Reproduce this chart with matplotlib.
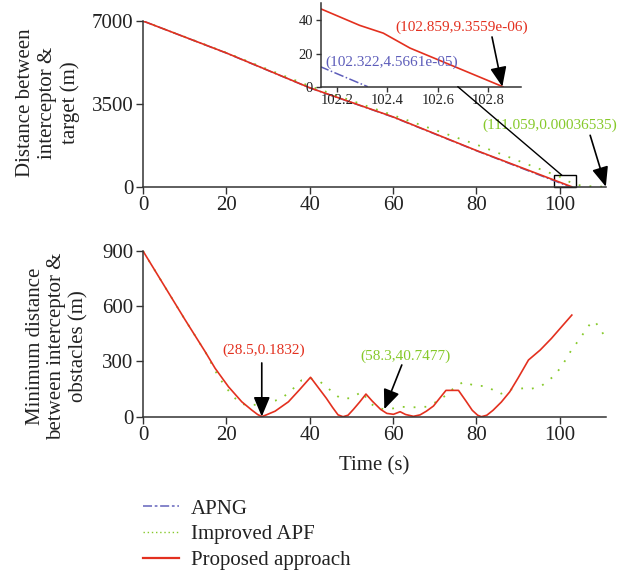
import matplotlib
matplotlib.use("Agg")
import matplotlib.pyplot as plt
from matplotlib.lines import Line2D
from matplotlib.patches import Rectangle, ConnectionPatch

plt.rcParams['font.family'] = ['Liberation Serif', 'DejaVu Serif']

# ---------------- data ----------------
# Top: distance between interceptor & target
t_red_top = [0, 20, 40, 60, 80, 100, 102.135, 102.29, 102.384, 102.49, 102.859]
d_red_top = [7000, 5650, 4180, 2950, 1530, 190, 47, 37, 32.3, 23.3, 0]
t_blue_top = [0, 20, 40, 60, 80, 100, 102.135, 102.322]
d_blue_top = [7000, 5645, 4175, 2940, 1520, 160, 12, 0]
t_green_top = [0, 20, 40, 60, 80, 95, 100, 102, 104, 106, 108, 111.059]
d_green_top = [7000, 5660, 4250, 3020, 1780, 760, 420, 230, 80, 30, 12, 0]

# Bottom: minimum distance between interceptor & obstacles
t_red_bot = [0, 5, 10, 12.5, 15, 17.3, 20.5, 23.7, 26.1, 27.5, 28.5, 29.6, 31.7, 34.9,
             37.5, 40.2, 42, 44, 45.5, 46.8, 48, 49.2, 50.5, 52, 53.5, 55, 57, 58.5,
             60.1, 61.7, 63, 64.9, 66.5, 68, 69.7, 71, 72.7, 75.7, 77.5, 79, 80.3,
             81.2, 82.5, 84, 86, 88, 90, 92.5, 95.3, 98, 100.5, 102.9]
d_red_bot = [900, 715, 530, 440, 350, 263, 163, 81, 36, 12, 0.18, 10, 30, 81,
             145, 214, 160, 100, 50, 10, 0, 8, 40, 80, 123, 85, 40, 18,
             13, 27, 12, 2, 10, 30, 58, 95, 143, 143, 85, 35, 8,
             0, 8, 35, 80, 135, 210, 308, 362, 425, 490, 552]
t_green_bot = [0, 5, 10, 12.5, 15, 18.1, 20.1, 21.3, 23.3, 25, 27, 29.5, 31.7, 33.3,
               35.7, 38.1, 40, 42.5, 44.9, 47.3, 49.7, 51, 52.5, 54.5, 56.4, 58.3, 60,
               61.7, 64.9, 68, 70.5, 72.8, 74.5, 76.9, 79.7, 81.7, 83.3, 85.7, 88.5,
               91.2, 92.8, 95.6, 98.4, 100.4, 102.8, 104.9, 106.5, 107.7, 108.5,
               110.1, 111.059]
d_green_bot = [900, 715, 530, 440, 350, 217, 154, 118, 73, 62, 65, 75, 87, 100,
               145, 199, 210, 190, 145, 100, 100, 115, 136, 73, 45, 40.75, 45,
               54, 51, 54, 82, 118, 154, 190, 167, 167, 154, 123, 149,
               154, 149, 167, 217, 271, 362, 426, 480, 516, 516,
               462, 426]

x_ticks = [0, 20, 40, 60, 80, 100]
y_ticks_top = [0, 3500, 7000]
y_ticks_bot = [0, 300, 600, 900]
inset_xticks = [102.2, 102.4, 102.6, 102.8]
inset_yticks = [0, 20, 40]
legend_labels = ['APNG', 'Improved APF', 'Proposed approach']

RED = '#e3301f'
GREEN = '#86c92a'
BLUE = '#5d5dba'
SPINE = '#333333'

W, H = 630, 572
fig = plt.figure(figsize=(6.3, 5.72), dpi=100)

def fr(x0, y_top, x1, y_bot):
    return [x0 / W, 1 - y_bot / H, (x1 - x0) / W, (y_bot - y_top) / H]

ax1 = fig.add_axes(fr(143, 21, 606, 186.7))
ax2 = fig.add_axes(fr(143, 251, 606, 416.7))
axin = fig.add_axes(fr(320.7, 3, 520.7, 86.7))

def style(ax, fs):
    for s in ['top', 'right']:
        ax.spines[s].set_visible(False)
    for s in ['left', 'bottom']:
        ax.spines[s].set_color(SPINE)
        ax.spines[s].set_linewidth(1.1)
    ax.tick_params(direction='out', length=5, width=1.0, color=SPINE,
                   labelsize=fs, labelcolor='#222222', pad=2)
    ax.patch.set_alpha(0)

green_ls = (0, (1, 5))

# top
ax1.plot(t_blue_top, d_blue_top, color=BLUE, lw=1.1, ls='-.')
ax1.plot(t_green_top, d_green_top, color=GREEN, lw=1.3, ls=green_ls)
ax1.plot(t_red_top, d_red_top, color=RED, lw=1.2)
ax1.set_xlim(0, 111.1)
ax1.set_ylim(0, 7000)
ax1.set_xticks(x_ticks)
ax1.set_yticks(y_ticks_top)
style(ax1, 15)
ax1.add_patch(Rectangle((98.7, 0), 5.15, 485, fill=False, ec='k', lw=1.0, clip_on=False))

arrow = dict(arrowstyle='-|>,head_length=0.6,head_width=0.25', color='k', lw=1.2,
             shrinkA=0, shrinkB=0, mutation_scale=20)
ax1.annotate('', xy=(111.059, 0), xytext=(107.3, 2172), arrowprops=arrow,
             annotation_clip=False)
ax1.text(97.7, 2594, '(111.059,0.00036535)', color=GREEN, fontsize=11,
         ha='center', va='center')

# inset
axin.plot(t_blue_top, d_blue_top, color=BLUE, lw=1.1, ls='-.')
axin.plot(t_red_top, d_red_top, color=RED, lw=1.2)
axin.set_xlim(102.135, 102.93)
axin.set_ylim(0, 50.5)
axin.set_xticks(inset_xticks)
axin.set_xticklabels([f'{v:.1f}' for v in inset_xticks])
axin.set_yticks(inset_yticks)
style(axin, 10.5)
axin.tick_params(length=3.5)
axin.annotate('', xy=(102.857, 0), xytext=(102.816, 30), arrowprops=arrow,
              annotation_clip=False)
axin.text(102.697, 35.6, '(102.859,9.3559e-06)', color=RED, fontsize=11,
          ha='center', va='center')
axin.text(102.152, 15, '(102.322,4.5661e-05)', color=BLUE, fontsize=11,
          ha='left', va='center')

con = ConnectionPatch(xyA=(102.68, 0), coordsA=axin.transData,
                      xyB=(100.5, 485), coordsB=ax1.transData, color='k', lw=1.0)
fig.add_artist(con)

# bottom
ax2.plot(t_green_bot, d_green_bot, color=GREEN, lw=1.3, ls=green_ls)
ax2.plot(t_red_bot, d_red_bot, color=RED, lw=1.2)
ax2.set_xlim(0, 111.1)
ax2.set_ylim(0, 900)
ax2.set_xticks(x_ticks)
ax2.set_yticks(y_ticks_bot)
style(ax2, 15)
ax2.annotate('', xy=(28.5, 0.18), xytext=(28.5, 292), arrowprops=arrow,
             annotation_clip=False)
ax2.text(28.9, 362, '(28.5,0.1832)', color=RED, fontsize=11, ha='center', va='center')
ax2.annotate('', xy=(57.9, 40.75), xytext=(62.1, 281), arrowprops=arrow,
             annotation_clip=False)
ax2.text(62.9, 331, '(58.3,40.7477)', color=GREEN, fontsize=11, ha='center', va='center')

# labels
fig.text(48 / W, 1 - 102.5 / H, 'Distance between\ninterceptor &\ntarget (m)',
         rotation=90, ha='center', va='center', fontsize=15, multialignment='center',
         color='#222222', linespacing=1.2)
fig.text(57 / W, 1 - 346 / H, 'Minimum distance\nbetween interceptor &\nobstacles (m)',
         rotation=90, ha='center', va='center', fontsize=15, multialignment='center',
         color='#222222', linespacing=1.2)
fig.text(374 / W, 1 - 466 / H, 'Time (s)', ha='center', va='center', fontsize=15,
         color='#222222')

handles = [Line2D([], [], color='#7b7bc6', lw=1.3, ls=(0, (5, 1.5, 1.5, 1.5))),
           Line2D([], [], color=GREEN, lw=1.0, ls=(0, (1, 2))),
           Line2D([], [], color=RED, lw=1.6)]
fig.legend(handles, legend_labels, loc='upper left', bbox_to_anchor=(143 / W, 1 - 499 / H),
           frameon=False, fontsize=15, borderpad=0, borderaxespad=0, handlelength=1.75,
           handletextpad=0.55, labelspacing=0.3, labelcolor='#222222')

fig.savefig('out.png', dpi=100)
